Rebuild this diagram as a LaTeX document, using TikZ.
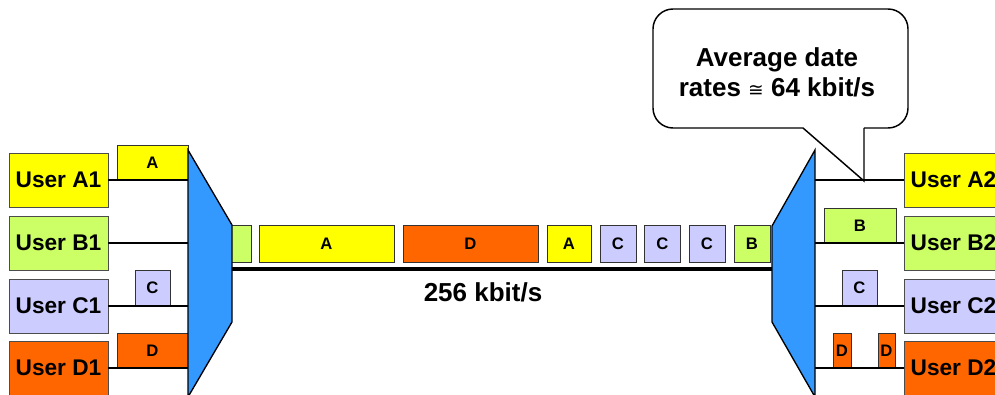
\documentclass[tikz,border=0pt]{standalone}
\usepackage{fontspec}
\setmainfont{Liberation Sans}
\newfontfamily\approxfont{DejaVu Sans}
\usepackage{tikz}

\definecolor{colA}{HTML}{FFFF00}
\definecolor{colB}{HTML}{CCFF66}
\definecolor{colC}{HTML}{CCCCFF}
\definecolor{colD}{HTML}{FF6600}
\definecolor{muxblue}{HTML}{3399FF}

\tikzset{
  user/.style={draw=black!70, inner sep=0pt, minimum width=74.25pt, minimum height=40.5pt,
    font=\bfseries\fontsize{17}{20}\selectfont},
  pkt/.style={draw=black!80, inner sep=0pt, minimum height=26.25pt,
    font=\bfseries\fontsize{12.5}{14}\selectfont},
  mux/.style={draw=black, line width=1pt, fill=muxblue},
  link/.style={line width=1.1pt},
}

\begin{document}
\begin{tikzpicture}[x=0.75pt, y=-0.75pt]
  \useasboundingbox (0,0) rectangle (995,395);
  \clip (0,0) rectangle (995,395);

  % users, left
  \node[user, fill=colA] (ua1) at (58.5,180) {User A1};
  \node[user, fill=colB] (ub1) at (58.5,243) {User B1};
  \node[user, fill=colC] (uc1) at (58.5,306) {User C1};
  \node[user, fill=colD] (ud1) at (58.5,368) {User D1};

  % users, right
  \node[user, fill=colA] (ua2) at (953.5,180) {User A2};
  \node[user, fill=colB] (ub2) at (953.5,243) {User B2};
  \node[user, fill=colC] (uc2) at (953.5,306) {User C2};
  \node[user, fill=colD] (ud2) at (953.5,368) {User D2};

  \coordinate (lmux) at (188,0);
  \coordinate (rmux) at (815,0);
  \coordinate (lout) at (232,269);
  \coordinate (rin) at (772,269);
  \coordinate (tip) at (864,181);

  % packets before the multiplexer
  \node[pkt, fill=colA, minimum width=53.25pt] (pa1) at (152.5,163) {A};
  \node[pkt, fill=colC, minimum width=26.25pt] (pc1) at (152.5,287.5) {C};
  \node[pkt, fill=colD, minimum width=53.25pt] (pd1) at (152.5,350.5) {D};

  \draw[link] (ua1) -- (ua1 -| lmux);
  \draw[link] (ub1) -- (ub1 -| lmux);
  \draw[link] (uc1) -- (uc1 -| lmux);
  \draw[link] (ud1) -- (ud1 -| lmux);

  % packets on the trunk
  \node[pkt, fill=colB, minimum width=27pt, minimum height=27.75pt] (t0) at (233,243.5) {};
  \node[pkt, fill=colA, minimum width=101.25pt, minimum height=27.75pt] (t1) at (326.5,243.5) {A};
  \node[pkt, fill=colD, minimum width=101.25pt, minimum height=27.75pt] (t2) at (470.5,243.5) {D};
  \node[pkt, fill=colA, minimum width=33pt, minimum height=27.75pt] (t3) at (569,243.5) {A};
  \node[pkt, fill=colC, minimum width=27pt, minimum height=27.75pt] (t4) at (618,243.5) {C};
  \node[pkt, fill=colC, minimum width=27pt, minimum height=27.75pt] (t5) at (662.5,243.5) {C};
  \node[pkt, fill=colC, minimum width=27pt, minimum height=27.75pt] (t6) at (707,243.5) {C};
  \node[pkt, fill=colB, minimum width=27pt, minimum height=27.75pt] (t7) at (752,243.5) {B};

  \draw[line width=3pt] (lout) -- (rin);
  \node[font=\bfseries\fontsize{19.5}{22}\selectfont] (rate) at (483,292) {256 kbit/s};

  % multiplexers
  \draw[mux] (188,150) -- (232,225) -- (232,322) -- (188,397) -- cycle;
  \draw[mux] (815,150) -- (772,226) -- (772,322) -- (815,397) -- cycle;

  % packets after the demultiplexer
  \node[pkt, fill=colB, minimum width=54pt] (pb2) at (860,225.5) {B};
  \node[pkt, fill=colC, minimum width=26.25pt] (pc2) at (859.5,287.5) {C};
  \node[pkt, fill=colD, minimum width=13.5pt] (pd2) at (842,350.5) {D};
  \node[pkt, fill=colD, minimum width=13pt] (pd3) at (886.5,350.5) {D};

  \draw[link] (ua2) -- (ua2 -| rmux);
  \draw[link] (ub2) -- (ub2 -| rmux);
  \draw[link] (uc2) -- (uc2 -| rmux);
  \draw[link] (ud2) -- (ud2 -| rmux);

  % callout
  \draw[link, rounded corners=15pt] (864,128) -- (908,128) -- (908,9) -- (653,9) -- (653,128) -- (803,128);
  \draw[link] (803,128) -- (tip) -- (864,128);
  \node[font=\bfseries\fontsize{19.5}{22.5}\selectfont, align=center] (note) at (777,72)
    {Average date\\rates {\approxfont\mdseries\fontsize{14}{14}\selectfont ≅} 64 kbit/s};
\end{tikzpicture}
\end{document}
